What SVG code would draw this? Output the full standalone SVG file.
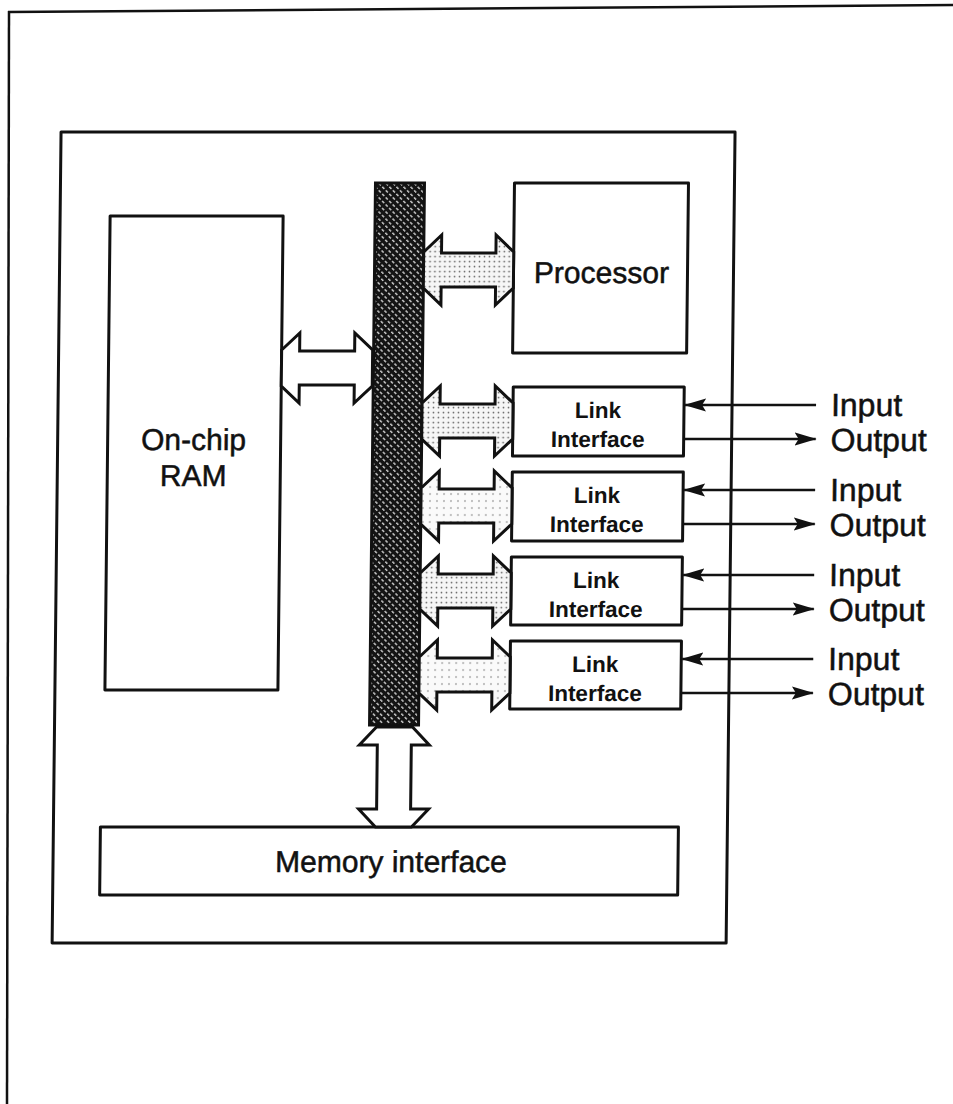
<svg xmlns="http://www.w3.org/2000/svg" width="953" height="1104" viewBox="0 0 953 1104">
  <style>
    .box{fill:#fff;stroke:#111;stroke-width:3;stroke-linejoin:round}
    .frame{fill:none;stroke:#111;stroke-width:2.5}
    .arr{stroke:#111;stroke-width:3;stroke-linejoin:miter}
    .io{stroke:#111;stroke-width:2.5;fill:none}
    .t{font-family:"Liberation Sans",Arial,sans-serif;fill:#111;stroke:#111;stroke-width:0.5}
    .lab{font-size:32px}
    .big{font-size:30px;text-anchor:middle}
    .lk{font-size:22.5px;font-weight:bold;text-anchor:middle;stroke-width:0}
  </style>
  <defs>
    <pattern id="hatch" width="5" height="5" patternUnits="userSpaceOnUse" patternTransform="rotate(-45)">
      <rect width="5" height="5" fill="#141414"/>
      <rect x="0" y="0" width="1.5" height="3" fill="#fff" opacity="0.75"/>
    </pattern>
    <pattern id="dots" width="5" height="5" patternUnits="userSpaceOnUse">
      <rect width="5" height="5" fill="#f6f6f6"/>
      <circle cx="1.5" cy="1.5" r="0.9" fill="#666"/>
    </pattern>
    <pattern id="dots2" width="7" height="7" patternUnits="userSpaceOnUse">
      <rect width="7" height="7" fill="#fafafa"/>
      <circle cx="2" cy="2" r="0.8" fill="#888"/>
    </pattern>
    <path id="harrow" d="M0,-18 L18,-35 L18,-17 L73,-17 L73,-35 L91,-18 L91,18 L73,35 L73,17 L18,17 L18,35 L0,18 Z"/>
    <marker id="ah" markerWidth="22" markerHeight="14" refX="21" refY="7" orient="auto" markerUnits="userSpaceOnUse">
      <path d="M0,0.5 L22,7 L0,13.5 L4,7 Z" fill="#111"/>
    </marker>
  </defs>

  <g id="page-frame">
    <line class="frame" x1="8" y1="12" x2="953" y2="5"/>
    <line class="frame" x1="9" y1="11" x2="7" y2="1104"/>
  </g>

  <g transform="translate(5.5,0) skewX(-0.63)">
    <g id="chip">
      <rect class="box" x="57" y="132" width="674" height="811"/>
    </g>

    <g id="ram">
      <rect class="box" x="107" y="216" width="173" height="474"/>
      <text class="t big" x="193" y="450" font-size="28">On-chip</text>
      <text class="t big" x="193" y="486" font-size="28">RAM</text>
    </g>

    <g id="processor">
      <rect class="box" x="511" y="183" width="174" height="170"/>
      <text class="t big" x="599" y="283">Processor</text>
    </g>

    <g id="link1">
      <rect class="box" x="512" y="387" width="171" height="69"/>
      <text class="t lk" x="597" y="418">Link</text>
      <text class="t lk" x="597" y="447">Interface</text>
    </g>
    <g id="link2">
      <rect class="box" x="512" y="472" width="171" height="69"/>
      <text class="t lk" x="597" y="503">Link</text>
      <text class="t lk" x="597" y="532">Interface</text>
    </g>
    <g id="link3">
      <rect class="box" x="512" y="557" width="171" height="68"/>
      <text class="t lk" x="597" y="588">Link</text>
      <text class="t lk" x="597" y="617">Interface</text>
    </g>
    <g id="link4">
      <rect class="box" x="512" y="641" width="171" height="68"/>
      <text class="t lk" x="597" y="672">Link</text>
      <text class="t lk" x="597" y="701">Interface</text>
    </g>

    <g id="memory-interface">
      <rect class="box" x="104" y="827" width="578" height="68"/>
      <text class="t big" x="395" y="872" font-size="31">Memory interface</text>
    </g>

    <g id="bus">
      <rect x="372" y="183" width="49" height="542" fill="url(#hatch)" stroke="#111" stroke-width="3"/>
    </g>

    <g id="connectors">
      <use href="#harrow" class="arr" fill="#fff" transform="translate(280,368)"/>
      <use href="#harrow" class="arr" fill="url(#dots)" transform="translate(421,270) scale(0.989,1)"/>
      <use href="#harrow" class="arr" fill="url(#dots)" transform="translate(421,421)"/>
      <use href="#harrow" class="arr" fill="url(#dots2)" transform="translate(421,506)"/>
      <use href="#harrow" class="arr" fill="url(#dots)" transform="translate(421,591)"/>
      <use href="#harrow" class="arr" fill="url(#dots2)" transform="translate(421,675)"/>
      <path class="arr" fill="#fff" d="M379,727 L415,727 L432,745 L414,745 L414,809 L432,809 L415,827 L379,827 L362,809 L380,809 L380,745 L362,745 Z"/>

      <line class="io" x1="815" y1="405" x2="684" y2="405" marker-end="url(#ah)"/>
      <line class="io" x1="683" y1="439" x2="815" y2="439" marker-end="url(#ah)"/>
      <line class="io" x1="815" y1="490" x2="684" y2="490" marker-end="url(#ah)"/>
      <line class="io" x1="683" y1="524" x2="815" y2="524" marker-end="url(#ah)"/>
      <line class="io" x1="815" y1="575" x2="684" y2="575" marker-end="url(#ah)"/>
      <line class="io" x1="683" y1="609" x2="815" y2="609" marker-end="url(#ah)"/>
      <line class="io" x1="815" y1="659" x2="684" y2="659" marker-end="url(#ah)"/>
      <line class="io" x1="683" y1="693" x2="815" y2="693" marker-end="url(#ah)"/>
    </g>

    <g id="io-labels">
      <text class="t lab" x="830" y="416">Input</text>
      <text class="t lab" x="830" y="451">Output</text>
      <text class="t lab" x="830" y="501">Input</text>
      <text class="t lab" x="830" y="536">Output</text>
      <text class="t lab" x="830" y="586">Input</text>
      <text class="t lab" x="830" y="621">Output</text>
      <text class="t lab" x="830" y="670">Input</text>
      <text class="t lab" x="830" y="705">Output</text>
    </g>
  </g>
</svg>
